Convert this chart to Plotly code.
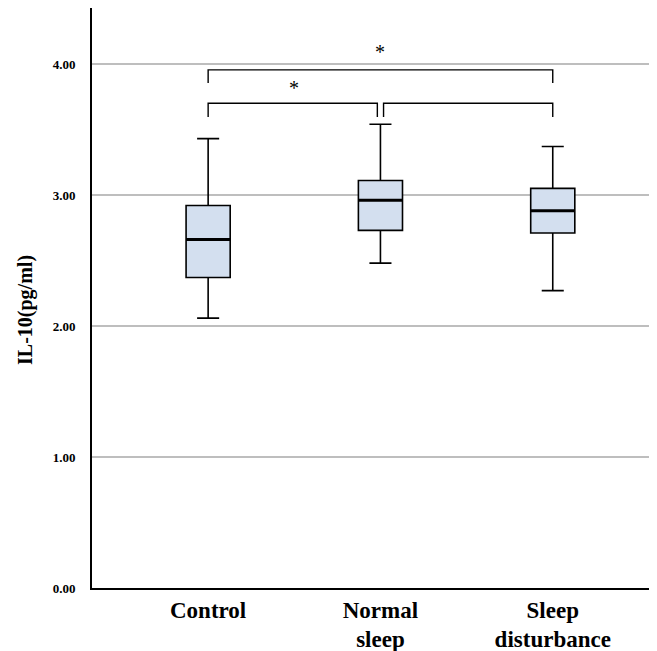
import plotly.graph_objects as go

categories = ["Control", "Normal<br>sleep", "Sleep<br>disturbance"]
lower_whisker = [2.06, 2.48, 2.27]
q1 = [2.37, 2.73, 2.71]
median = [2.66, 2.96, 2.88]
q3 = [2.92, 3.11, 3.05]
upper_whisker = [3.43, 3.54, 3.37]

y_ticks = [0, 1, 2, 3, 4]
y_tick_labels = ["0.00", "1.00", "2.00", "3.00", "4.00"]
y_title = "IL-10(pg/ml)"

# significance brackets: (from category index, to category index, level, tip level)
brackets = [(0, 2, 3.955, 3.855), (0, 1, 3.70, 3.595), (1, 2, 3.70, 3.595)]
stars = [(1.0, 4.09), (0.5, 3.82)]

font_serif = "Liberation Serif"
BOX_W = 0.256

fig = go.Figure()
fig.add_trace(go.Box(
    x=categories, q1=q1, median=median, q3=q3,
    lowerfence=lower_whisker, upperfence=upper_whisker,
    fillcolor="#D3DFEF", line=dict(color="black", width=1.6),
    width=BOX_W, whiskerwidth=0.5, boxpoints=False, showlegend=False,
    hoverinfo="skip",
))
# thicker median lines
for i, m in enumerate(median):
    fig.add_trace(go.Scatter(
        x=[i - BOX_W / 2, i + BOX_W / 2], y=[m, m], mode="lines",
        line=dict(color="black", width=3), showlegend=False, hoverinfo="skip",
        xaxis="x2",
    ))

for a, b, lvl, tip in brackets:
    xa, xb = a, b
    if (a, b) == (0, 1):
        xb = b - 0.018
    if (a, b) == (1, 2):
        xa = a + 0.018
    fig.add_trace(go.Scatter(
        x=[xa, xa, xb, xb], y=[tip, lvl, lvl, tip], mode="lines",
        line=dict(color="black", width=1.4), showlegend=False, hoverinfo="skip",
        xaxis="x2",
    ))

for sx, sy in stars:
    fig.add_annotation(x=sx, y=sy, xref="x2", yref="y", text="*", showarrow=False,
                       font=dict(family=font_serif, size=20, color="black"))

fig.add_annotation(x=-0.119, y=0.479, xref="paper", yref="paper", text="<b>%s</b>" % y_title,
                   textangle=-90, showarrow=False, xanchor="center", yanchor="middle",
                   font=dict(family=font_serif, size=20, color="black"))

xr = [-0.674, 2.605]
fig.update_layout(
    width=649, height=643,
    margin=dict(l=84, r=0, t=0, b=63),
    paper_bgcolor="white", plot_bgcolor="white",
    xaxis=dict(
        type="category", range=xr, showgrid=False, ticks="",
        showline=True, linecolor="black", linewidth=1.8,
        tickfont=dict(family=font_serif, size=23, color="black"),
        tickprefix="<b>", ticksuffix="</b>",
    ),
    xaxis2=dict(range=xr, overlaying="x", visible=False, showgrid=False),
    yaxis=dict(
        range=[0, 4.427], tickvals=y_ticks, ticktext=["<b>%s</b>" % t for t in y_tick_labels],
        showgrid=True, gridcolor="#BEBEBE", gridwidth=1.5, zeroline=False,
        showline=True, linecolor="black", linewidth=1.8, ticks="",
        ticklabelstandoff=12,
        tickfont=dict(family=font_serif, size=13, color="black"),
    ),
)

fig.write_html("out.html")
